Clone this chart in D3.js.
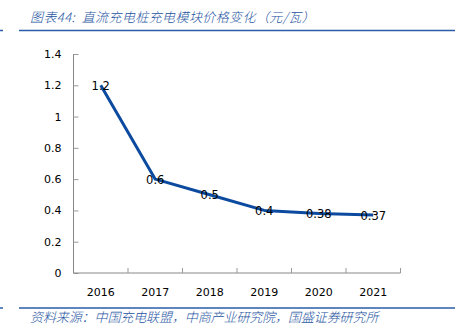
<!DOCTYPE html>
<html>
<head>
<meta charset="utf-8">
<script src="https://cdn.jsdelivr.net/npm/d3@7"></script>
<style>
  html, body { margin: 0; padding: 0; background: #fff; }
  svg { display: block; }
</style>
</head>
<body>
<svg id="chart" width="455" height="329"></svg>
<script>
// DC charging pile module price (yuan per watt)
const years = ["2016", "2017", "2018", "2019", "2020", "2021"];
const prices = [1.2, 0.6, 0.5, 0.4, 0.38, 0.37];
const priceLabels = ["1.2", "0.6", "0.5", "0.4", "0.38", "0.37"];
const yTicks = [0, 0.2, 0.4, 0.6, 0.8, 1, 1.2, 1.4];
const yTickLabels = ["0", "0.2", "0.4", "0.6", "0.8", "1", "1.2", "1.4"];

const titleText = "图表44:  直流充电桩充电模块价格变化（元/瓦）";
const sourceText = "资料来源：中国充电联盟，中商产业研究院，国盛证券研究所";

const svg = d3.select("#chart");
const W = 455, H = 329;
const plot = { left: 73.5, right: 400.5, top: 54, bottom: 273 };

const x = d3.scaleBand().domain(years).range([plot.left, plot.right]).padding(0);
const y = d3.scaleLinear().domain([0, 1.4]).range([plot.bottom, plot.top]);

const blue = "#2A5CAA";
const cjk = "'Noto Sans CJK SC', sans-serif";
const num = "'DejaVu Sans', Verdana, sans-serif";

// Header and footer rules
[30.5, 308].forEach(yy => {
  svg.append("line").attr("x1", 19).attr("x2", W).attr("y1", yy).attr("y2", yy)
    .attr("stroke", blue).attr("stroke-width", 1.5);
  svg.append("line").attr("x1", 0).attr("x2", 3).attr("y1", yy).attr("y2", yy)
    .attr("stroke", blue).attr("stroke-width", 1.5);
});

svg.append("text").attr("x", 30).attr("y", 22)
  .attr("font-family", cjk).attr("font-style", "italic").attr("font-size", 13)
  .attr("font-weight", 300).attr("letter-spacing", 0.4)
  .attr("fill", "#2654A2").attr("xml:space", "preserve").style("white-space", "pre")
  .text(titleText);

svg.append("text").attr("x", 30).attr("y", 322)
  .attr("font-family", cjk).attr("font-style", "italic").attr("font-size", 13)
  .attr("font-weight", 300).attr("letter-spacing", -0.1)
  .attr("fill", "#2654A2").text(sourceText);

// Y axis: ticks point into the plot
const yAxis = d3.axisLeft(y).tickValues(yTicks)
  .tickFormat((d, i) => yTickLabels[i]).tickSize(-5).tickPadding(12);
const gy = svg.append("g").attr("transform", `translate(${plot.left},0)`).call(yAxis);
gy.select(".domain").attr("stroke", "#888").attr("d", `M-0,${plot.top}V${plot.bottom}`);
gy.selectAll(".tick line").attr("stroke", "#999");
gy.selectAll(".tick text").attr("font-family", num).attr("font-size", 11).attr("fill", "#000");

// X axis: category boundaries marked with upward ticks
const gx = svg.append("g").attr("transform", `translate(0,${plot.bottom})`);
gx.append("line").attr("x1", plot.left).attr("x2", plot.right).attr("y1", 0).attr("y2", 0)
  .attr("stroke", "#888");
const bounds = years.map(d => x(d)).concat([x(years[years.length - 1]) + x.bandwidth()]);
gx.selectAll("line.b").data(bounds.slice(1)).join("line").attr("class", "b")
  .attr("x1", d => d).attr("x2", d => d).attr("y1", 0).attr("y2", -5).attr("stroke", "#999");
gx.selectAll("text").data(years).join("text")
  .attr("x", d => x(d) + x.bandwidth() / 2).attr("y", 23)
  .attr("text-anchor", "middle").attr("font-family", num).attr("font-size", 11)
  .attr("fill", "#000").text(d => d);

// Price line
const line = d3.line().x((d, i) => x(years[i]) + x.bandwidth() / 2).y(d => y(d));
svg.append("path").datum(prices).attr("d", line)
  .attr("fill", "none").attr("stroke", "#0B4A9E").attr("stroke-width", 3)
  .attr("stroke-linejoin", "round");

// Value labels centred on each point
svg.selectAll("text.val").data(prices).join("text").attr("class", "val")
  .attr("x", (d, i) => x(years[i]) + x.bandwidth() / 2)
  .attr("y", d => y(d) + 4.5)
  .attr("text-anchor", "middle").attr("font-family", num).attr("font-size", 11.5)
  .attr("fill", "#000").text((d, i) => priceLabels[i]);
</script>
</body>
</html>
